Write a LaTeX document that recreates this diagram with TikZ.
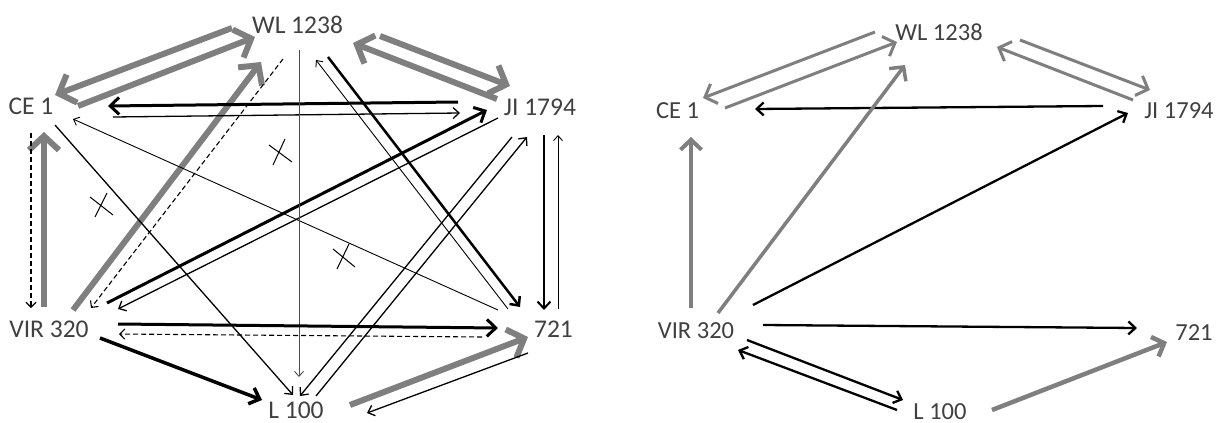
\documentclass[tikz,border=0pt]{standalone}
\usepackage{fontspec}
\setmainfont{Carlito}
\usetikzlibrary{arrows.meta}
\definecolor{txt}{HTML}{404040}
\definecolor{gl}{HTML}{7F7F7F}
\begin{document}
\begin{tikzpicture}[x=1pt,y=-1pt,line cap=butt,
 lbl/.style={anchor=base, inner sep=0pt, text=txt, font=\fontsize{25.5}{30}\selectfont},
 lbr/.style={anchor=base, inner sep=0pt, text=txt, font=\fontsize{24.5}{29}\selectfont},
 garr/.style={draw=gl, line width=6pt, -{Straight Barb[length=14pt,width=30pt]}},
 garrR/.style={draw=gl, line width=3.5pt, -{Straight Barb[length=10pt,width=21pt]}},
 thk/.style={draw=black, line width=3pt, -{Straight Barb[length=9pt,width=17pt]}},
 med/.style={draw=black, line width=2pt, -{Straight Barb[length=7pt,width=13pt]}},
 thn/.style={draw=black, line width=1.3pt, -{Straight Barb[length=6pt,width=11pt]}},
 hair/.style={draw=black, line width=0.9pt, -{Straight Barb[length=5pt,width=9pt]}},
 dsh/.style={draw=black, line width=1.1pt, dash pattern=on 5pt off 3pt, -{Straight Barb[length=5pt,width=10pt]}},
 xmark/.style={draw=black, line width=1pt}]
\useasboundingbox (0,0) rectangle (1219,423);
% ---------- left diagram ----------
\node[lbl] (wl) at (297.5,34) {WL 1238};
\node[lbl] (ce) at (31,114) {CE 1};
\node[lbl] (ji) at (540,115) {JI 1794};
\node[lbl] (vir) at (49,337) {VIR 320};
\node[lbl] (s721) at (553.5,337) {721};
\node[lbl] (l100) at (296,418) {L 100};
% gray
\draw[garr] ([shift={(-65.5,-6)}]wl.base) -- ([shift={(24,-19)}]ce.base);
\draw[garr] ([shift={(47,-8)}]ce.base) -- ([shift={(-42.5,3)}]wl.base);
\draw[garr] ([shift={(82.5,2)}]wl.base) -- ([shift={(-30,-29)}]ji.base);
\draw[garr] ([shift={(-43,-16)}]ji.base) -- ([shift={(55.5,9)}]wl.base);
\draw[garr] ([shift={(-5,-30)}]vir.base) -- ([shift={(13,18)}]ce.base);
\draw[garr] ([shift={(24,-27)}]vir.base) -- ([shift={(-36.5,28)}]wl.base);
\draw[garr] ([shift={(54,-13)}]l100.base) -- ([shift={(-25.5,0)}]s721.base);
% black
\draw[thk] ([shift={(-82,-13)}]ji.base) -- ([shift={(77,-8)}]ce.base);
\draw[thn] ([shift={(82,3)}]ce.base) -- ([shift={(-80,-2)}]ji.base);
\draw[thn] ([shift={(-42,3)}]ji.base) -- ([shift={(69,-28)}]vir.base);
\draw[thk] ([shift={(58,-34)}]vir.base) -- ([shift={(-53,-5)}]ji.base);
\draw[dsh] ([shift={(-14.5,25)}]wl.base) -- ([shift={(42,-29)}]vir.base);
\draw[dsh] ([shift={(0,19)}]ce.base) -- ([shift={(-18,-29)}]vir.base);
\draw[thn] ([shift={(24,11)}]ce.base) -- ([shift={(-3,-23)}]l100.base);
\draw[hair] ([shift={(-55.5,-27)}]s721.base) -- ([shift={(42,5)}]ce.base);
\draw[hair,draw=black!70] ([shift={(1.5,16)}]wl.base) -- ([shift={(3,-41)}]l100.base);
\draw[med,line width=2.5pt] ([shift={(30.5,23)}]wl.base) -- ([shift={(-33.5,-30)}]s721.base);
\draw[hair] ([shift={(-45.5,-28)}]s721.base) -- ([shift={(18.5,26)}]wl.base);
\draw[med] ([shift={(4,20)}]ji.base) -- ([shift={(-9.5,-27)}]s721.base);
\draw[hair] ([shift={(4.5,-28)}]s721.base) -- ([shift={(18,20)}]ji.base);
\draw[thn] ([shift={(-28,22)}]ji.base) -- ([shift={(4,-22)}]l100.base);
\draw[thn] ([shift={(20,-22)}]l100.base) -- ([shift={(-13,22)}]ji.base);
\draw[thk] ([shift={(69,-13)}]vir.base) -- ([shift={(-55.5,-9)}]s721.base);
\draw[dsh] ([shift={(-71.5,0)}]s721.base) -- ([shift={(70,-3)}]vir.base);
\draw[thk,line width=3.5pt] ([shift={(51,1)}]vir.base) -- ([shift={(-34,-18)}]l100.base);
\draw[thn] ([shift={(-25.5,16)}]s721.base) -- ([shift={(71,-5)}]l100.base);
% cross marks
\draw[xmark] (269,145) -- (292,162) (273,165) -- (285,139);
\draw[xmark] (90,197) -- (113,215) (95,217) -- (107,193);
\draw[xmark] (333,249) -- (355,267) (337,269) -- (349,244);
% ---------- right diagram ----------
\node[lbr] (wl2) at (939,40) {WL 1238};
\node[lbr] (ce2) at (677.5,118) {CE 1};
\node[lbr] (ji2) at (1179,118) {JI 1794};
\node[lbr] (vir2) at (696,338) {VIR 320};
\node[lbr] (r721) at (1194,340) {721};
\node[lbr] (l2) at (940,419) {L 100};
\draw[garrR,line width=3pt] ([shift={(-64,-8)}]wl2.base) -- ([shift={(25.5,-20)}]ce2.base);
\draw[garrR,line width=3pt] ([shift={(47.5,-10)}]ce2.base) -- ([shift={(-42,2)}]wl2.base);
\draw[garrR,line width=3pt] ([shift={(81,0)}]wl2.base) -- ([shift={(-29,-28)}]ji2.base);
\draw[garrR,line width=3pt] ([shift={(-46,-18)}]ji2.base) -- ([shift={(58,7)}]wl2.base);
\draw[med,line width=2.3pt] ([shift={(-76,-12)}]ji2.base) -- ([shift={(77.5,-9)}]ce2.base);
\draw[med,line width=2.3pt] ([shift={(57,-33)}]vir2.base) -- ([shift={(-51,-5)}]ji2.base);
\draw[garrR,line width=4pt] ([shift={(-5,-30)}]vir2.base) -- ([shift={(13.5,19)}]ce2.base);
\draw[garrR] ([shift={(22,-25)}]vir2.base) -- ([shift={(-34,25)}]wl2.base);
\draw[med,line width=2.3pt] ([shift={(67,-13)}]vir2.base) -- ([shift={(-57,-12)}]r721.base);
\draw[med,line width=2.3pt] ([shift={(51,2)}]vir2.base) -- ([shift={(-37,-19)}]l2.base);
\draw[med,line width=2.3pt] ([shift={(-43,-9)}]l2.base) -- ([shift={(42,12)}]vir2.base);
\draw[garrR,line width=4.5pt] ([shift={(52,-9)}]l2.base) -- ([shift={(-27,2)}]r721.base);
\end{tikzpicture}
\end{document}
